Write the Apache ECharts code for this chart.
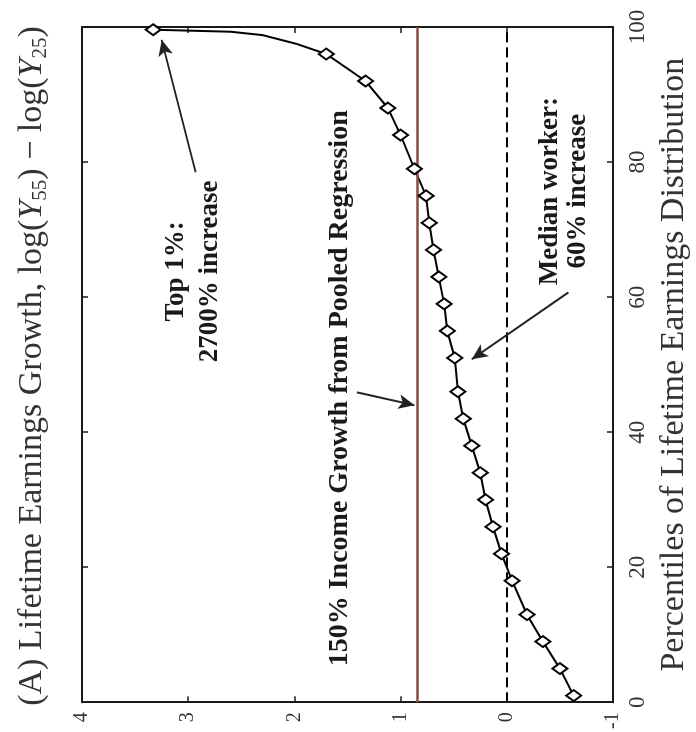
<!DOCTYPE html>
<html lang="en">
<head>
    <meta charset="UTF-8">
    <title>Lifetime Earnings Growth</title>
    <script src="https://cdn.jsdelivr.net/npm/echarts/dist/echarts.min.js"></script>
    <style>
        html, body { margin: 0; padding: 0; background: #fff; overflow: hidden; }
        /* the figure is printed turned a quarter turn, so the chart is drawn upright and turned */
        #chart1 {
            position: absolute; left: -18px; top: 18px;
            width: 732px; height: 696px;
            transform: rotate(-90deg);
        }
    </style>
</head>
<body>
<div id="chart1"></div>
<script type="text/javascript">
    // percentiles of the lifetime earnings distribution and log growth at each marker
    var percentiles = [1, 5, 9, 13, 18, 22, 26, 30, 34, 38, 42, 46, 51, 55, 59, 63, 67, 71, 75, 79, 84, 88, 92, 96, 99.6];
    var growth = [-0.63, -0.50, -0.34, -0.19, -0.05, 0.05, 0.13, 0.20, 0.25, 0.33, 0.41, 0.46, 0.49,
        0.56, 0.59, 0.64, 0.69, 0.73, 0.76, 0.87, 1.00, 1.12, 1.33, 1.70, 3.33];
    // the line bends between the last two markers: extra unmarked points
    var tailPct = [97.5, 98.8, 99.3];
    var tailGrowth = [1.98, 2.30, 2.60];
    var pctTicks = [0, 20, 40, 60, 80, 100];
    var growthTicks = [-1, 0, 1, 2, 3, 4];
    var pooledGrowth = 0.84;
    var zeroGrowth = 0;

    // notes: text, where the text sits, and arrow from / to (percentile, growth)
    var noteTop = ['Top 1%:', '2700% increase'];
    var noteTopAt = [63.8, 2.95];
    var arrowTop = [[78.5, 2.93], [98.1, 3.25]];
    var notePooled = ['150% Income Growth from Pooled Regression'];
    var notePooledAt = [46.5, 1.57];
    var arrowPooled = [[45.9, 1.41], [44.0, 0.87]];
    var noteMedian = ['Median worker:', '60% increase'];
    var noteMedianAt = [75.7, -0.54];
    var arrowMedian = [[60.7, -0.58], [50.8, 0.33]];

    var serif = '"Liberation Serif", "DejaVu Serif", serif';
    var ink = '#1a1a1a';

    var points = percentiles.map(function (p, i) { return [p, growth[i]]; });
    // curve = markers plus the tail points, sorted by percentile
    var curve = points.concat(tailPct.map(function (p, i) { return [p, tailGrowth[i]]; }))
        .sort(function (a, b) { return a[0] - b[0]; });

    function note(lines, at, size, lh) {
        return {
            coord: at,
            symbol: 'circle',
            symbolSize: 1,
            itemStyle: { color: 'rgba(0,0,0,0)' },
            label: {
                show: true,
                position: 'inside',
                formatter: lines.join('\n'),
                fontFamily: serif,
                fontWeight: 'bold',
                fontSize: size,
                lineHeight: lh,
                color: ink,
                align: 'center'
            }
        };
    }

    function arrow(a) {
        return [
            { coord: a[0], symbol: 'none' },
            { coord: a[1], symbol: 'arrow', symbolSize: [11, 16] }
        ];
    }

    function axisBase(ticks, pos, labels) {
        return {
            type: 'value',
            position: pos,
            min: ticks[0],
            max: ticks[ticks.length - 1],
            interval: ticks[1] - ticks[0],
            splitLine: { show: false },
            axisLine: { show: true, onZero: false, lineStyle: { color: ink, width: 2 } },
            axisTick: { show: true, inside: true, length: 6, lineStyle: { color: ink, width: 1.5 } },
            axisLabel: {
                show: labels,
                fontFamily: serif,
                fontSize: 23,
                color: '#333',
                margin: 13
            }
        };
    }

    var myChart1 = echarts.init(document.getElementById('chart1'));

    var xBottom = axisBase(pctTicks, 'bottom', true);
    xBottom.name = 'Percentiles of Lifetime Earnings Distribution';
    xBottom.nameLocation = 'middle';
    xBottom.nameGap = 44;
    xBottom.nameTextStyle = { fontFamily: serif, fontSize: 34, color: '#333' };
    var yLeft = axisBase(growthTicks, 'left', true);
    yLeft.axisLabel.fontSize = 20;
    yLeft.axisLabel.margin = 10;

    myChart1.setOption({
        animation: false,
        title: {
            text: '(A) Lifetime Earnings Growth, log({i|Y}{s|55}) \u2212 log({i|Y}{s|25})',
            left: 'center',
            top: 8,
            textStyle: {
                fontFamily: serif,
                fontWeight: 'normal',
                fontSize: 34,
                color: '#333',
                lineHeight: 38,
                rich: {
                    i: { fontFamily: serif, fontStyle: 'italic', fontSize: 34, color: '#333', lineHeight: 38 },
                    s: { fontFamily: serif, fontSize: 21, color: '#333', verticalAlign: 'bottom', lineHeight: 38 }
                }
            }
        },
        grid: { left: 26, right: 27, top: 82, bottom: 75 },
        xAxis: [xBottom, axisBase(pctTicks, 'top', false)],
        yAxis: [yLeft, axisBase(growthTicks, 'right', false)],
        series: [{
            name: 'curve',
            type: 'line',
            data: curve,
            symbol: 'none',
            lineStyle: { color: '#000', width: 2 },
            z: 4,
            markLine: {
                silent: true,
                symbol: ['none', 'none'],
                label: { show: false },
                data: [
                    { yAxis: zeroGrowth, lineStyle: { color: '#000', width: 2, type: [10, 5] } },
                    { yAxis: pooledGrowth, lineStyle: { color: '#8a4a46', width: 2.5, type: 'solid' } },
                    arrow(arrowTop),
                    arrow(arrowPooled),
                    arrow(arrowMedian)
                ],
                lineStyle: { color: '#222', width: 2, type: 'solid' }
            },
            markPoint: {
                silent: true,
                data: [
                    note(noteTop, noteTopAt, 27, 34),
                    note(notePooled, notePooledAt, 28, 30),
                    note(noteMedian, noteMedianAt, 27, 28)
                ]
            }
        }, {
            name: 'growth',
            type: 'scatter',
            data: points,
            symbol: 'diamond',
            symbolSize: [11, 15],
            itemStyle: { color: '#fff', borderColor: '#000', borderWidth: 2, opacity: 1 },
            z: 5
        }]
    });
</script>
</body>
</html>
